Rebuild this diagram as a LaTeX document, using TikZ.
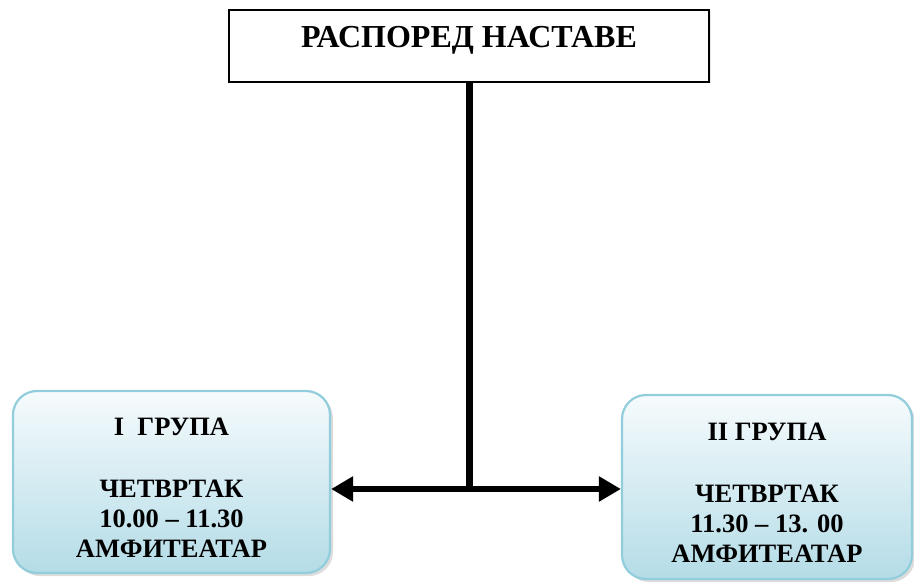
\documentclass[tikz,border=0pt]{standalone}
\usepackage{fontspec}
\setmainfont{Liberation Serif}
\usetikzlibrary{arrows.meta,shadows}
\definecolor{topc}{HTML}{F6FBFD}
\definecolor{botc}{HTML}{B4DCE7}
\definecolor{bordc}{HTML}{92CDDC}
\newcommand{\topstrut}{\rule{0pt}{28pt}}
\tikzset{
  titlebox/.style={draw=black, line width=2pt, fill=white, rectangle,
    minimum width=480pt, inner sep=9pt, text height=29pt, text depth=25pt,
    font=\bfseries\fontsize{32pt}{34pt}\selectfont,
    drop shadow={shadow xshift=1.5pt, shadow yshift=-1.5pt, fill=gray!40}},
  groupbox/.style={draw=bordc, line width=2.2pt, rounded corners=24pt,
    top color=topc, bottom color=botc, align=center,
    font=\bfseries\fontsize{26.5pt}{30pt}\selectfont,
    drop shadow={shadow xshift=3pt, shadow yshift=-3pt, fill=gray!55}},
  conn/.style={line width=7pt},
  arr/.style={line width=6pt, -{Triangle[length=22pt,width=24pt]}}
}
\begin{document}
\begin{tikzpicture}[x=1pt,y=-1pt]
\useasboundingbox (0,0) rectangle (914,586);
\node[titlebox] (T) at (469,46) {РАСПОРЕД НАСТАВЕ};
\node[groupbox, minimum width=317pt, minimum height=182pt] (L) at (171.5,482)
  {\topstrut I\ \ ГРУПА\\[32pt] ЧЕТВРТАК\\ 10.00 – 11.30\\ АМФИТЕАТАР};
\node[groupbox, minimum width=290pt, minimum height=184pt] (R) at (767,487)
  {\topstrut II ГРУПА\\[32pt] ЧЕТВРТАК\\ 11.30 – 13. 00\\ АМФИТЕАТАР};
\coordinate (J) at (469,489);
\draw[conn] (T.south -| J) -- ([yshift=3pt]J);
\draw[arr] (J) -- (J -| L.east);
\draw[arr] (J) -- (J -| R.west);
\end{tikzpicture}
\end{document}
